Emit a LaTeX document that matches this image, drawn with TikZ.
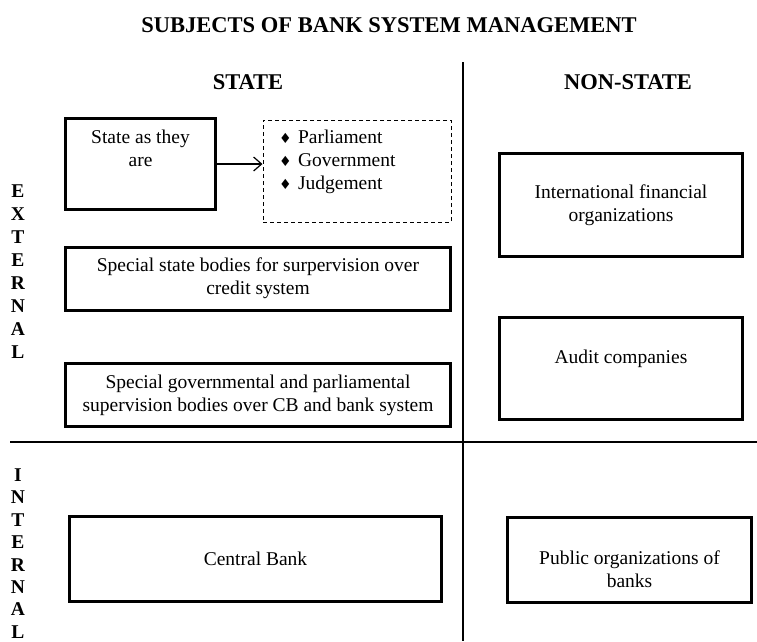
\documentclass[tikz,border=0pt]{standalone}
\usepackage{fontspec}
\setmainfont{Liberation Serif}
\newfontfamily\symfont{DejaVu Sans}
\usetikzlibrary{arrows.meta}
\newcommand{\bul}{{\symfont\fontsize{14}{14}\selectfont ♦}}

\begin{document}
\begin{tikzpicture}[x=1pt, y=-1pt,
  subj/.style={draw, line width=3pt, align=center, inner sep=0pt, font=\fontsize{19.5}{23}\selectfont},
  head/.style={font=\fontsize{22.5}{26}\selectfont\bfseries},
  side/.style={align=center, font=\fontsize{19.5}{23}\selectfont\bfseries},
  divider/.style={line width=1.3pt}]
\useasboundingbox (0,0) rectangle (757,641);

% Title and column headers
\node[head] (title) at (389,25) {SUBJECTS OF BANK SYSTEM MANAGEMENT};
\node[head] (state) at (248,82) {STATE};
\node[head] (nonstate) at (628,82) {NON-STATE};

% Dividing lines
\coordinate (vtop) at (463,62);
\coordinate (vbot) at (463,641);
\coordinate (hleft) at (10,442);
\coordinate (hright) at (757,442);
\draw[divider] (vtop) -- (vbot);
\draw[divider] (hleft) -- (hright);

% Row labels
\node[side] (external) at (18,272) {E\\X\\T\\E\\R\\N\\A\\L};
\node[side, font=\fontsize{19.5}{22.4}\selectfont\bfseries] (internal) at (18,553.5) {I\\N\\T\\E\\R\\N\\A\\L};

% State, external
\node[subj, minimum width=150pt, minimum height=91pt] (asis) at (140.5,164) {State as they\\are\\[8pt]~};
\node[draw, line width=1pt, dash pattern=on 4pt off 3pt, align=left, text width=156pt, inner xsep=16pt, inner ysep=0pt, minimum height=102pt, font=\fontsize{19.5}{23}\selectfont] (branches) at (357,171) {\bul\ Parliament\\\bul\ Government\\\bul\ Judgement\\~};
\node[subj, minimum width=385pt, minimum height=63pt] (special) at (258,278.5) {Special state bodies for surpervision over\\credit system};
\node[subj, minimum width=385pt, minimum height=63pt] (govparl) at (258,395) {Special governmental and parliamental\\supervision bodies over CB and bank system};

% Non-state, external
\node[subj, minimum width=243pt, minimum height=103pt] (intl) at (621,205) {International financial\\organizations};
\node[subj, minimum width=243pt, minimum height=102pt] (audit) at (621,368.5) {Audit companies\\~};

% Internal
\node[subj, minimum width=372pt, minimum height=85pt] (cb) at (255.5,559) {Central Bank};
\node[subj, minimum width=244pt, minimum height=85pt] (pub) at (629.5,559.5) {};
\node[align=center, font=\fontsize{19.5}{23}\selectfont] (pubtext) at (629.5,569) {Public organizations of\\banks};

% Arrow to the branches of power
\draw[line width=1.2pt, -{Straight Barb[length=8pt,width=14pt]}] (asis.east) -- (asis.east -| branches.west);
\end{tikzpicture}
\end{document}
